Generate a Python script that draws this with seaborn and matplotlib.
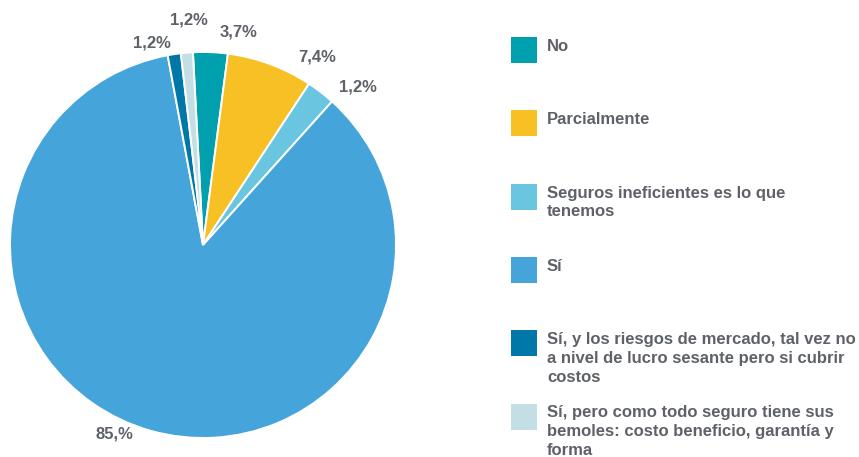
import numpy as np
import matplotlib
matplotlib.use("Agg")
import matplotlib.pyplot as plt
import seaborn as sns
from matplotlib.patches import Rectangle

# Data (wedge sizes as drawn, labels as printed)
categories = [
    "No",
    "Parcialmente",
    "Seguros ineficientes es lo que\ntenemos",
    "Sí",
    "Sí, y los riesgos de mercado, tal vez no\na nivel de lucro sesante pero si cubrir\ncostos",
    "Sí, pero como todo seguro tiene sus\nbemoles: costo beneficio, garantía y\nforma",
]
values = [2.9, 7.2, 2.4, 85.5, 1.1, 1.0]
value_labels = ["3,7%", "7,4%", "1,2%", "85,%", "1,2%", "1,2%"]
colors = ["#00A0AF", "#F7C024", "#6AC6E0", "#45A5DA", "#0077A9", "#C4DEE6"]

sns.set_theme(style="white")
plt.rcParams["font.family"] = ["Liberation Sans", "DejaVu Sans"]
text_color = "#5E6268"

fig = plt.figure(figsize=(8.59, 4.57), dpi=100)

# pie axes: centre ~ (203, 245) px, radius ~193 px
L = 1.25
half = 193 * L
ax = fig.add_axes([(203 - half) / 859, (457 - 245 - half) / 457, 2 * half / 859, 2 * half / 457])
wedges, _ = ax.pie(
    values,
    colors=sns.color_palette(colors),
    startangle=93,
    counterclock=False,
    wedgeprops=dict(edgecolor="white", linewidth=1.4),
)
ax.set_xlim(-L, L)
ax.set_ylim(-L, L)
ax.axis("off")

# label placement: angle offset from slice middle and radial distance
angle_shift = [-7.3, -10.9, -6.8, -9.4, 5.5, -1.3]
label_dist = [1.12, 1.14, 1.143, 1.08, 1.08, 1.17]
for w, lab, da, r in zip(wedges, value_labels, angle_shift, label_dist):
    mid = np.deg2rad((w.theta1 + w.theta2) / 2 + da)
    ax.text(r * np.cos(mid), r * np.sin(mid), lab, ha="center", va="center",
            fontsize=12, fontweight="bold", color=text_color)

# legend drawn at the right, square tops every ~73 px
for i, (cat, col) in enumerate(zip(categories, colors)):
    top = 37 + i * 73.3
    fig.add_artist(Rectangle((511 / 859, 1 - (top + 26) / 457), 26 / 859, 26 / 457,
                             transform=fig.transFigure, facecolor=col, edgecolor="none"))
    fig.text(547 / 859, 1 - (top + 2) / 457, cat, ha="left", va="top",
             fontsize=12, fontweight="bold", color=text_color, linespacing=1.32)

fig.savefig("out.png", dpi=100)
